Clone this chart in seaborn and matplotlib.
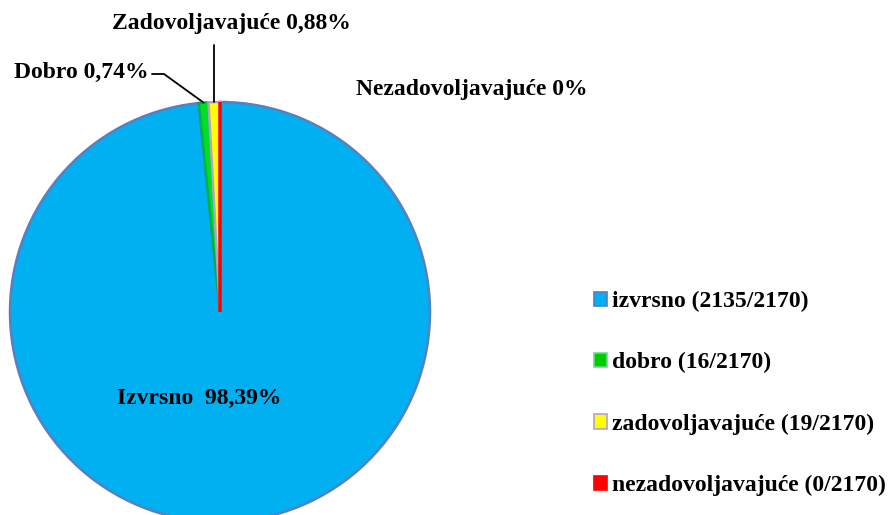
import numpy as np
import matplotlib
matplotlib.use("Agg")
import matplotlib.pyplot as plt
import matplotlib.patches as mpatches
import seaborn as sns

# podaci
kategorije = ["izvrsno", "dobro", "zadovoljavajuće", "nezadovoljavajuće"]
broj = [2135, 16, 19, 0]
ukupno = 2170
natpisi = ["Izvrsno  98,39%", "Dobro 0,74%", "Zadovoljavajuće 0,88%", "Nezadovoljavajuće 0%"]
boje = ["#00b0f0", "#00e020", "#ffff00", "#ff0000"]
rubovi = ["#5a7fc0", "#00b050", "#b3a2c7", "#ff0000"]

sns.set_theme(style="white")
plt.rcParams["font.family"] = ["Liberation Serif", "DejaVu Serif"]
plt.rcParams["font.weight"] = "bold"

W, H = 892, 515
fig = plt.figure(figsize=(W / 100, H / 100), dpi=100)
ax = fig.add_axes([0, 0, 1, 1])

# centar i radijus u pikselima (y prema gore)
cx, cy, r = 220, H - 312, 210
wedges, _ = ax.pie(broj, colors=boje, startangle=90, counterclock=False,
                   center=(cx, cy), radius=r,
                   wedgeprops=dict(linewidth=1.8))
for w, ec in zip(wedges, rubovi):
    w.set_edgecolor(ec)
wedges[-1].set_linewidth(2.5)

ax.set_xlim(0, W)
ax.set_ylim(0, H)
ax.set_aspect("equal")
ax.axis("off")

fs = 17
txt = dict(fontsize=fs, fontweight="bold", color="black")

# sredina svakog isječka
def rub(i, faktor=1.0):
    w = wedges[i]
    a = np.deg2rad((w.theta1 + w.theta2) / 2)
    return cx + r * faktor * np.cos(a), cy + r * faktor * np.sin(a)

# Izvrsno
ax.text(199, H - 398, natpisi[0], ha="center", va="center", **txt)

# Dobro s linijom
x0, y0 = rub(1)
ax.text(149, H - 72, natpisi[1], ha="right", va="center", **txt)
ax.plot([152, 164, x0], [H - 74, H - 74, y0], color="black", lw=1.3)

# Zadovoljavajuće s linijom
x1, y1 = rub(2)
ax.text(231, H - 23, natpisi[2], ha="center", va="center", **txt)
ax.plot([x1, x1], [H - 45, y1], color="black", lw=1.3)

# Nezadovoljavajuće
ax.text(472, H - 90, natpisi[3], ha="center", va="center", **txt)

# legenda
leg_rub = ["#4f81bd", "#66e08a", "#b3a2c7", "#ff0000"]
leg_boje = ["#00b0f0", "#00cc00", "#ffff00", "#ff0000"]
handles = [mpatches.Patch(facecolor=fc, edgecolor=ec, linewidth=1.2)
           for fc, ec in zip(leg_boje, leg_rub)]
labels = [f"{k} ({b}/{ukupno})" for k, b in zip(kategorije, broj)]
fig.legend(handles, labels, loc="upper left", bbox_to_anchor=(594 / W, 1 - 291 / H),
           frameon=False, prop=dict(family="Liberation Serif", weight="bold", size=fs),
           labelcolor="black",
           handlelength=0.55, handleheight=0.55, handletextpad=0.2,
           labelspacing=1.7, borderpad=0, borderaxespad=0)

fig.savefig("out.png", dpi=100)
